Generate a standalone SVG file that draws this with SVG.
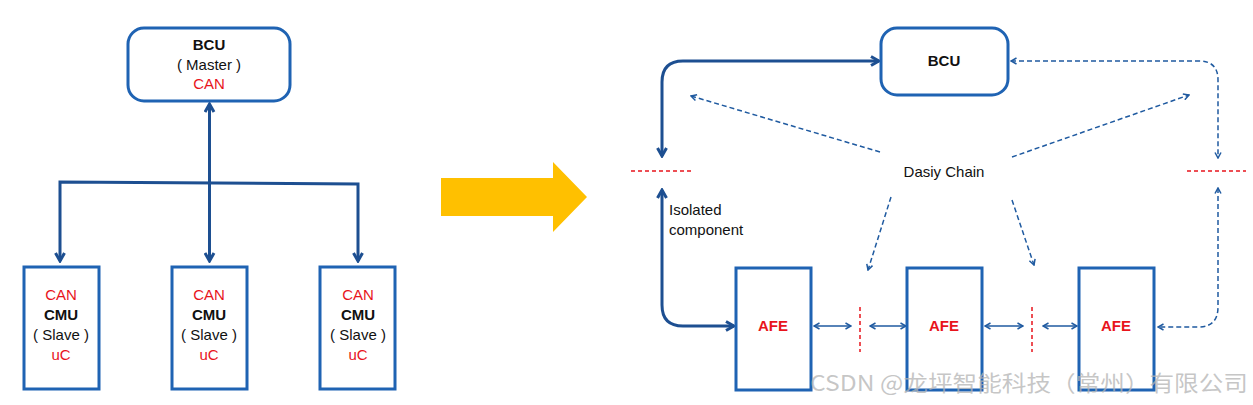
<svg xmlns="http://www.w3.org/2000/svg" width="1253" height="405" viewBox="0 0 1253 405">
<style>
.box{fill:#fff;stroke:#1f63b3;stroke-width:3}
.t{font-family:"Liberation Sans","Noto Sans",Arial,sans-serif;font-size:15px;text-anchor:middle;fill:#111}
.b{font-weight:bold}
.r{fill:#e8141c}
.thick{fill:none;stroke:#1d4f91;stroke-width:3}
.dash{fill:none;stroke:#1f5aa0;stroke-width:1.5;stroke-dasharray:5 3}
.thin{fill:none;stroke:#1f5aa0;stroke-width:1.5}
.rd{stroke:#e8141c;stroke-width:1.5;stroke-dasharray:4 3}
</style>
<defs>
<marker id="mT" viewBox="0 0 12 12" refX="10" refY="6" markerWidth="12" markerHeight="12" markerUnits="userSpaceOnUse" orient="auto-start-reverse">
<path d="M2,1.5 L10,6 L2,10.5" fill="none" stroke="#1d4f91" stroke-width="3" stroke-linejoin="miter"/>
</marker>
<marker id="mS" viewBox="0 0 8 8" refX="7" refY="4" markerWidth="8" markerHeight="8" markerUnits="userSpaceOnUse" orient="auto-start-reverse">
<path d="M1.5,1 L7,4 L1.5,7" fill="none" stroke="#1f5aa0" stroke-width="1.5"/>
</marker>
</defs>

<!-- Left diagram -->
<g id="connectors-left">
<path class="thick" d="M209.5,104 L209.5,261" marker-start="url(#mT)" marker-end="url(#mT)"/>
<path class="thick" d="M60,261 L60,182 L358,184 L358,261" marker-start="url(#mT)" marker-end="url(#mT)"/>
</g>
<g id="bcu-left">
<rect class="box" x="128" y="28" width="162" height="73" rx="16"/>
<text class="t b" x="209" y="50">BCU</text>
<text class="t" x="209" y="70">( Master )</text>
<text class="t r" x="209" y="89">CAN</text>
</g>
<g id="cmu1">
<rect class="box" x="24" y="267" width="75" height="122"/>
<text class="t r" x="61" y="300">CAN</text>
<text class="t b" x="61" y="320">CMU</text>
<text class="t" x="61" y="340">( Slave )</text>
<text class="t r" x="61" y="360">uC</text>
</g>
<g id="cmu2">
<rect class="box" x="172" y="267" width="75" height="122"/>
<text class="t r" x="209" y="300">CAN</text>
<text class="t b" x="209" y="320">CMU</text>
<text class="t" x="209" y="340">( Slave )</text>
<text class="t r" x="209" y="360">uC</text>
</g>
<g id="cmu3">
<rect class="box" x="320" y="267" width="75" height="122"/>
<text class="t r" x="358" y="300">CAN</text>
<text class="t b" x="358" y="320">CMU</text>
<text class="t" x="358" y="340">( Slave )</text>
<text class="t r" x="358" y="360">uC</text>
</g>

<!-- Big yellow arrow -->
<g id="big-arrow">
<polygon points="441,178 553,178 553,162 587,197 553,232 553,216 441,216" fill="#ffc000"/>
</g>

<!-- Right diagram connectors -->
<g id="connectors-right">
<path class="thick" d="M662,156 L662,82 Q662,61 683,61 L879,61" marker-start="url(#mT)" marker-end="url(#mT)"/>
<path class="thick" d="M662,190 L662,305 Q662,326 683,326 L734,326" marker-start="url(#mT)" marker-end="url(#mT)"/>
<path class="dash" d="M1011,61 L1199,61 Q1218,61 1218,80 L1218,158" marker-start="url(#mS)" marker-end="url(#mS)"/>
<path class="dash" d="M1218,188 L1218,307 Q1218,327 1198,327 L1158,327" marker-start="url(#mS)" marker-end="url(#mS)"/>
<path class="dash" d="M880,152 L691,96" marker-end="url(#mS)"/>
<path class="dash" d="M1012,157 L1189,95" marker-end="url(#mS)"/>
<path class="dash" d="M891,197 L868,270" marker-end="url(#mS)"/>
<path class="dash" d="M1012,200 L1034,265" marker-end="url(#mS)"/>
<path class="thin" d="M814,326 L851,326" marker-start="url(#mS)" marker-end="url(#mS)"/>
<path class="thin" d="M870,326 L906,326" marker-start="url(#mS)" marker-end="url(#mS)"/>
<path class="thin" d="M985,326 L1023,326" marker-start="url(#mS)" marker-end="url(#mS)"/>
<path class="thin" d="M1043,326 L1077,326" marker-start="url(#mS)" marker-end="url(#mS)"/>
<line class="rd" x1="631" y1="171" x2="691" y2="171"/>
<line class="rd" x1="1187" y1="171" x2="1246" y2="171"/>
<line class="rd" x1="860" y1="307" x2="860" y2="352"/>
<line class="rd" x1="1032" y1="307" x2="1032" y2="352"/>
</g>
<text class="t" x="944" y="177">Dasiy Chain</text>
<text class="t" x="669" y="215" style="text-anchor:start">Isolated</text>
<text class="t" x="669" y="235" style="text-anchor:start">component</text>

<g id="bcu-right">
<rect class="box" x="881" y="28" width="127" height="67" rx="16"/>
<text class="t b" x="944" y="66">BCU</text>
</g>
<g id="afe1">
<rect class="box" x="736" y="268" width="75" height="122"/>
<text class="t b r" x="773" y="331">AFE</text>
</g>
<g id="afe2">
<rect class="box" x="907" y="268" width="75" height="122"/>
<text class="t b r" x="944" y="331">AFE</text>
</g>
<g id="afe3">
<rect class="box" x="1079" y="268" width="75" height="122"/>
<text class="t b r" x="1116" y="331">AFE</text>
</g>

<text x="810" y="391" textLength="438" lengthAdjust="spacingAndGlyphs" style="font-family:'Noto Sans CJK SC','Liberation Sans',sans-serif;font-size:22px;fill:#b4b4b4;fill-opacity:0.75">CSDN @龙坪智能科技（常州）有限公司</text>
</svg>
